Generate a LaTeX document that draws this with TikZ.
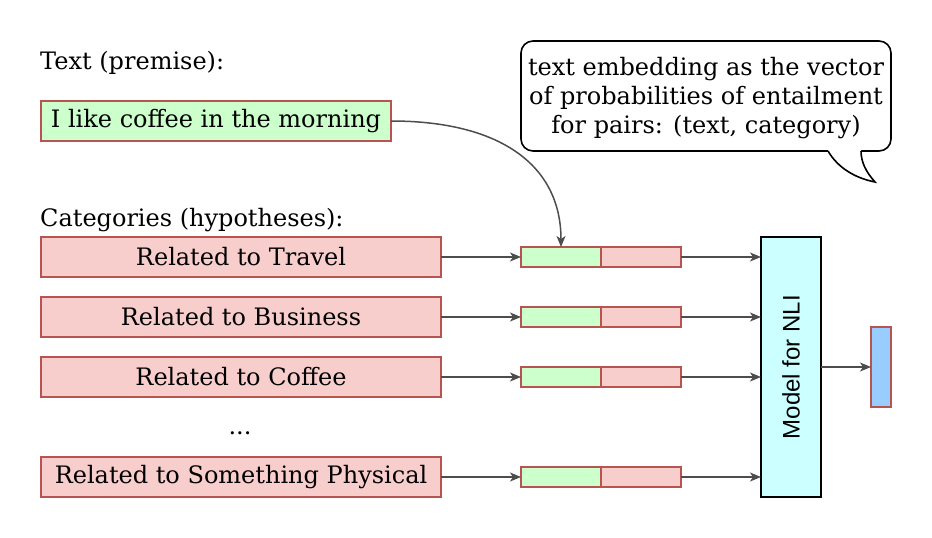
\documentclass[tikz,border=0pt]{standalone}
\usepackage{fontspec}
\setmainfont{DejaVu Serif}
\newfontfamily\modelfont{Liberation Sans}
\usepackage{tikz}
\usetikzlibrary{positioning,calc,arrows.meta}
\definecolor{boxgreen}{HTML}{CCFFCC}
\definecolor{boxred}{HTML}{F8CECC}
\definecolor{edgered}{HTML}{B85450}
\definecolor{modelcyan}{HTML}{CCFFFF}
\definecolor{outblue}{HTML}{99CCFF}
\definecolor{arrowgray}{HTML}{4D4D4D}
\tikzstyle{premise} = [rectangle, draw=edgered, fill=boxgreen, line width=1.6pt, minimum width=350pt, minimum height=40pt, inner sep=0pt, outer sep=0pt]
\tikzstyle{catbox} = [rectangle, draw=edgered, fill=boxred, line width=1.6pt, minimum width=400pt, minimum height=40pt, inner sep=0pt, outer sep=0pt]
\tikzstyle{greenpart} = [rectangle, draw=edgered, fill=boxgreen, line width=1.6pt, minimum width=80pt, minimum height=20pt, inner sep=0pt, outer sep=0pt]
\tikzstyle{redpart} = [rectangle, draw=edgered, fill=boxred, line width=1.6pt, minimum width=80pt, minimum height=20pt, inner sep=0pt, outer sep=0pt]
\tikzstyle{model} = [rectangle, draw=black, fill=modelcyan, line width=1.6pt, minimum width=60pt, minimum height=260pt, inner sep=0pt, outer sep=0pt]
\tikzstyle{outbox} = [rectangle, draw=edgered, fill=outblue, line width=1.6pt, minimum width=20pt, minimum height=80pt, inner sep=0pt, outer sep=0pt]
\tikzstyle{caption} = [anchor=base west, inner sep=0pt]
\tikzstyle{line} = [draw=arrowgray, line width=1.5pt, -{Stealth[length=11pt, width=9pt, inset=3pt]}]

\begin{document}
\begin{tikzpicture}[x=1pt, y=-1pt, font=\fontsize{24}{29}\selectfont]
        \useasboundingbox (0,0) rectangle (932,538);
        % Premise
        \node [caption] (premtitle) at (40,69) {Text (premise):};
        \node [premise] (premise) at (216,121) {I like coffee in the morning};

        % Categories
        \node [caption] (cattitle) at (40,226) {Categories (hypotheses):};
        \node [catbox] (travel) at (241,257) {Related to Travel};
        \node [catbox, below=20pt of travel] (business) {Related to Business};
        \node [catbox, below=20pt of business] (coffee) {Related to Coffee};
        \node [inner sep=0pt] (dots) at (240,433) {...};
        \node [catbox, below=60pt of coffee] (physical) {Related to Something Physical};

        % Pairs (text, category)
        \node [greenpart, right=80pt of travel] (g1) {};
        \node [redpart, right=0pt of g1] (r1) {};
        \node [greenpart, right=80pt of business] (g2) {};
        \node [redpart, right=0pt of g2] (r2) {};
        \node [greenpart, right=80pt of coffee] (g3) {};
        \node [redpart, right=0pt of g3] (r3) {};
        \node [greenpart, right=80pt of physical] (g4) {};
        \node [redpart, right=0pt of g4] (r4) {};

        % Model and output
        \node [model] (nli) at (791,367) {\rotatebox{90}{\modelfont Model for NLI}};
        \node [outbox, right=50pt of nli] (vec) {};

        % Callout
        \draw [line width=1.6pt, fill=white, rounded corners=12pt] (521,41) rectangle (891,151);
        \fill [white] (828,151) .. controls (838,168) and (855,178) .. (875,182) .. controls (866,172) and (861,162) .. (861,151) -- (861,147) -- (828,147) -- cycle;
        \draw [line width=1.6pt] (828,151) .. controls (838,168) and (855,178) .. (875,182) .. controls (866,172) and (861,162) .. (861,151);
        \node [align=center] (note) at (706,98) {text embedding as the vector\\of probabilities of entailment\\for pairs: (text, category)};

        % Paths
        \path [line] (travel) -- (g1);
        \path [line] (business) -- (g2);
        \path [line] (coffee) -- (g3);
        \path [line] (physical) -- (g4);
        \path [line] (r1) -- (r1 -| nli.west);
        \path [line] (r2) -- (r2 -| nli.west);
        \path [line] (r3) -- (r3 -| nli.west);
        \path [line] (r4) -- (r4 -| nli.west);
        \path [line] (nli) -- (vec);
        \path [line] (premise.east) .. controls (500,121) and (561,165) .. (g1.north);
\end{tikzpicture}
\end{document}
